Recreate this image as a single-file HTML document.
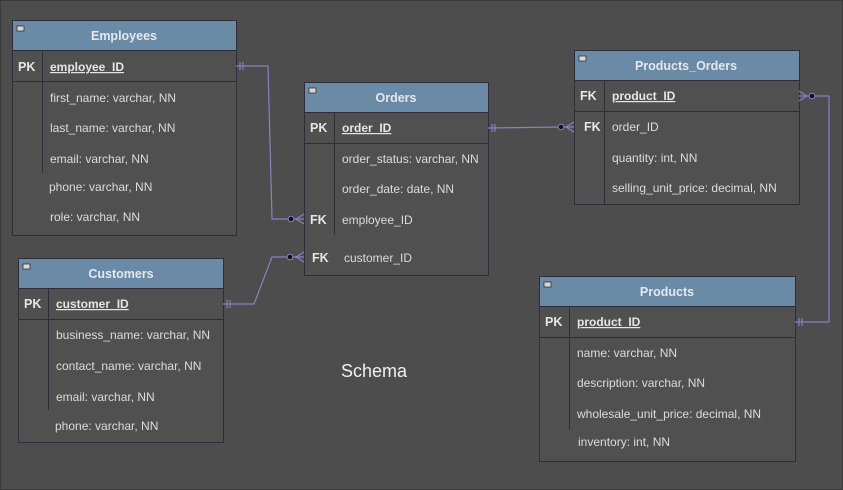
<!DOCTYPE html>
<html><head><style>
html,body{margin:0;padding:0;background:#4d4d4d;}
svg{display:block;}
text{font-family:"Liberation Sans",Arial,sans-serif;fill:#dcdcdc;font-size:12px;}
.h{font-weight:bold;font-size:12.5px;fill:#e4e8ee;}
.k{font-weight:bold;font-size:12.5px;fill:#e6e6e6;}
.u{text-decoration:underline;font-weight:bold;fill:#e6e6e6;}
.b{fill:#505050;stroke:#2e2e3a;stroke-width:1;}
.hd{fill:#6a8aa6;stroke:#2e2e3a;stroke-width:1;}
.l{stroke:#2e2e3a;stroke-width:1;fill:none;}
.c{stroke:#8a80c4;stroke-width:1.2;fill:none;}
</style></head><body>
<svg width="843" height="490" viewBox="0 0 843 490">
<rect x="0" y="0" width="843" height="490" fill="#4d4d4d"/>
<rect x="0.5" y="0.5" width="842" height="489" fill="none" stroke="#3a3a3a" stroke-width="1"/>

<!-- Employees -->
<rect class="b" x="12.5" y="20.5" width="224" height="215"/>
<rect class="hd" x="12.5" y="20.5" width="224" height="30"/>
<rect x="17" y="26" width="7" height="5" fill="#d8d8d8" stroke="#333" stroke-width="0.8"/>
<text class="h" x="124" y="40" text-anchor="middle">Employees</text>
<line class="l" x1="12" y1="81.5" x2="236" y2="81.5"/>
<line class="l" x1="42.5" y1="50" x2="42.5" y2="173"/>
<text class="k" x="18" y="71">PK</text>
<text class="u" x="50" y="71">employee_ID</text>
<text x="50" y="102">first_name: varchar, NN</text>
<text x="50" y="132">last_name: varchar, NN</text>
<text x="50" y="163">email: varchar, NN</text>
<text x="49" y="191">phone: varchar, NN</text>
<text x="50" y="221">role: varchar, NN</text>

<!-- Customers -->
<rect class="b" x="18.5" y="258.5" width="205" height="184"/>
<rect class="hd" x="18.5" y="258.5" width="205" height="30"/>
<rect x="23" y="264" width="7" height="5" fill="#d8d8d8" stroke="#333" stroke-width="0.8"/>
<text class="h" x="121" y="278" text-anchor="middle">Customers</text>
<line class="l" x1="18" y1="319.5" x2="223" y2="319.5"/>
<line class="l" x1="48.5" y1="288" x2="48.5" y2="410"/>
<text class="k" x="24" y="308">PK</text>
<text class="u" x="56" y="308">customer_ID</text>
<text x="56" y="339">business_name: varchar, NN</text>
<text x="56" y="370">contact_name: varchar, NN</text>
<text x="56" y="401">email: varchar, NN</text>
<text x="55" y="430">phone: varchar, NN</text>

<!-- Orders -->
<rect class="b" x="304.5" y="82.5" width="184" height="193"/>
<rect class="hd" x="304.5" y="82.5" width="184" height="30"/>
<rect x="309" y="88" width="7" height="5" fill="#d8d8d8" stroke="#333" stroke-width="0.8"/>
<text class="h" x="396" y="102" text-anchor="middle">Orders</text>
<line class="l" x1="304" y1="143.5" x2="488" y2="143.5"/>
<line class="l" x1="334.5" y1="112" x2="334.5" y2="235"/>
<text class="k" x="310" y="132">PK</text>
<text class="u" x="342" y="132">order_ID</text>
<text x="342" y="163">order_status: varchar, NN</text>
<text x="342" y="193">order_date: date, NN</text>
<text class="k" x="310" y="224">FK</text>
<text x="342" y="224">employee_ID</text>
<text class="k" x="312" y="262">FK</text>
<text x="344" y="262">customer_ID</text>

<!-- Products_Orders -->
<rect class="b" x="574.5" y="50.5" width="225" height="154"/>
<rect class="hd" x="574.5" y="50.5" width="225" height="30"/>
<rect x="579" y="56" width="7" height="5" fill="#d8d8d8" stroke="#333" stroke-width="0.8"/>
<text class="h" x="686" y="70" text-anchor="middle">Products_Orders</text>
<line class="l" x1="574" y1="111.5" x2="799" y2="111.5"/>
<line class="l" x1="604.5" y1="80" x2="604.5" y2="204"/>
<text class="k" x="580" y="100">FK</text>
<text class="u" x="612" y="100">product_ID</text>
<text class="k" x="584" y="131">FK</text>
<text x="612" y="131">order_ID</text>
<text x="612" y="162">quantity: int, NN</text>
<text x="612" y="192">selling_unit_price: decimal, NN</text>

<!-- Products -->
<rect class="b" x="539.5" y="276.5" width="256" height="185"/>
<rect class="hd" x="539.5" y="276.5" width="256" height="30"/>
<rect x="544" y="282" width="7" height="5" fill="#d8d8d8" stroke="#333" stroke-width="0.8"/>
<text class="h" x="667" y="296" text-anchor="middle">Products</text>
<line class="l" x1="539" y1="337.5" x2="795" y2="337.5"/>
<line class="l" x1="569.5" y1="306" x2="569.5" y2="430"/>
<text class="k" x="545" y="326">PK</text>
<text class="u" x="577" y="326">product_ID</text>
<text x="577" y="357">name: varchar, NN</text>
<text x="577" y="387">description: varchar, NN</text>
<text x="577" y="418">wholesale_unit_price: decimal, NN</text>
<text x="578" y="446">inventory: int, NN</text>

<text x="374" y="377" text-anchor="middle" style="font-size:18px;fill:#f0f0f0">Schema</text>

<!-- connectors -->
<polyline class="c" points="236,66 268,66 272,219 304,219"/>
<line class="c" x1="240" y1="62" x2="240" y2="70"/><line class="c" x1="243" y1="62" x2="243" y2="70"/>
<circle cx="291" cy="219" r="2.8" fill="#111" stroke="#8a80c4"/>
<polyline class="c" points="304,214 296,219 304,224"/>

<polyline class="c" points="223,304 254,304 272,257 304,257"/>
<line class="c" x1="227" y1="300" x2="227" y2="308"/><line class="c" x1="230" y1="300" x2="230" y2="308"/>
<circle cx="290" cy="257" r="2.8" fill="#111" stroke="#8a80c4"/>
<polyline class="c" points="304,252 296,257 304,262"/>

<polyline class="c" points="488,128 560,127 574,127"/>
<line class="c" x1="492" y1="124" x2="492" y2="132"/><line class="c" x1="495" y1="124" x2="495" y2="132"/>
<circle cx="561" cy="127" r="2.8" fill="#111" stroke="#8a80c4"/>
<polyline class="c" points="574,122 566,127 574,132"/>

<polyline class="c" points="799,96 829,96 829,322 795,322"/>
<circle cx="812" cy="96" r="2.8" fill="#111" stroke="#8a80c4"/>
<polyline class="c" points="799,91 807,96 799,101"/>
<line class="c" x1="799" y1="318" x2="799" y2="326"/><line class="c" x1="802" y1="318" x2="802" y2="326"/>
</svg>
</body></html>
